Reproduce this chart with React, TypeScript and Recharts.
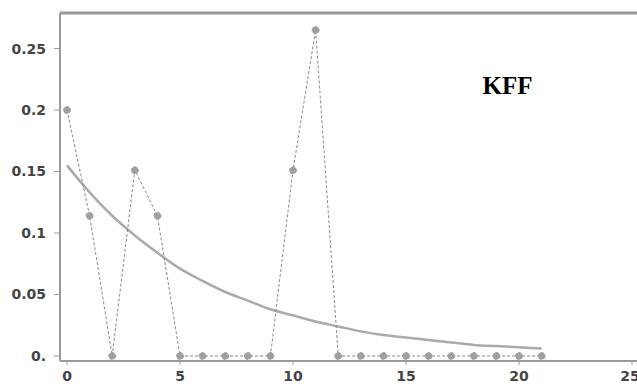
import React from 'react';
import { ComposedChart, Line, XAxis, YAxis, ReferenceLine } from 'recharts';

// observed frequencies (dotted series)
const obsX = [0, 1, 2, 3, 4, 5, 6, 7, 8, 9, 10, 11, 12, 13, 14, 15, 16, 17, 18, 19, 20, 21];
const obsY = [0.2, 0.114, 0, 0.151, 0.114, 0, 0, 0, 0, 0, 0.151, 0.265, 0, 0, 0, 0, 0, 0, 0, 0, 0, 0];

// fitted curve (solid grey), read at integer x
const fitX = [0, 1, 2, 3, 4, 5, 6, 7, 8, 9, 10, 11, 12, 13, 14, 15, 16, 17, 18, 19, 20, 21];
const fitY = [0.155, 0.133, 0.114, 0.098, 0.084, 0.071, 0.061, 0.052, 0.045, 0.038, 0.033, 0.028, 0.024, 0.02, 0.017, 0.015, 0.013, 0.011, 0.009, 0.008, 0.007, 0.006];

const xTicks = [0, 5, 10, 15, 20, 25];
const yTicks = [0, 0.05, 0.1, 0.15, 0.2, 0.25];
const label = 'KFF';

const obsData = obsX.map((x, i) => ({ x, y: obsY[i] }));
const fitData = fitX.map((x, i) => ({ x, y: fitY[i] }));

const X_DOMAIN: [number, number] = [-0.31, 25.22];
const Y_DOMAIN: [number, number] = [-0.0041, 0.2789];

const axisColor = '#9a9a9a';
const tickStyle = { fontFamily: 'DejaVu Sans', fontWeight: 700, fontSize: 14, fill: '#444' };

export default function App() {
  return (
    <div style={{ position: 'absolute', left: 0, top: 0, width: 637, height: 387, background: '#fff' }}>
      <ComposedChart width={637} height={387} margin={{ top: 13, right: 0, bottom: 0, left: 0 }}>
        <XAxis
          type="number"
          dataKey="x"
          domain={X_DOMAIN}
          ticks={xTicks}
          allowDataOverflow
          height={26}
          tickSize={4}
          tickMargin={6}
          tick={tickStyle}
          axisLine={{ stroke: axisColor, strokeWidth: 2 }}
          tickLine={{ stroke: axisColor }}
        />
        <YAxis
          type="number"
          domain={Y_DOMAIN}
          ticks={yTicks}
          allowDataOverflow
          width={60}
          tickSize={6}
          tickMargin={8}
          tick={tickStyle}
          tickFormatter={(v: number) => (v === 0 ? '0.' : String(v))}
          axisLine={{ stroke: axisColor, strokeWidth: 2 }}
          tickLine={{ stroke: axisColor }}
        />
        <ReferenceLine y={Y_DOMAIN[1]} stroke={axisColor} strokeWidth={3} />
        <Line
          data={fitData}
          dataKey="y"
          type="monotone"
          stroke="#aaaaaa"
          strokeWidth={2.5}
          dot={false}
          isAnimationActive={false}
        />
        <Line
          data={obsData}
          dataKey="y"
          type="linear"
          stroke="#8a8a8a"
          strokeWidth={1}
          strokeDasharray="3 2"
          dot={{ r: 3.5, fill: '#a0a0a0', stroke: '#a0a0a0', strokeWidth: 1 }}
          isAnimationActive={false}
        />
        <text x={507.5} y={94} textAnchor="middle" fontFamily="Liberation Serif" fontWeight={700} fontSize={25} fill="#000">
          {label}
        </text>
      </ComposedChart>
    </div>
  );
}
